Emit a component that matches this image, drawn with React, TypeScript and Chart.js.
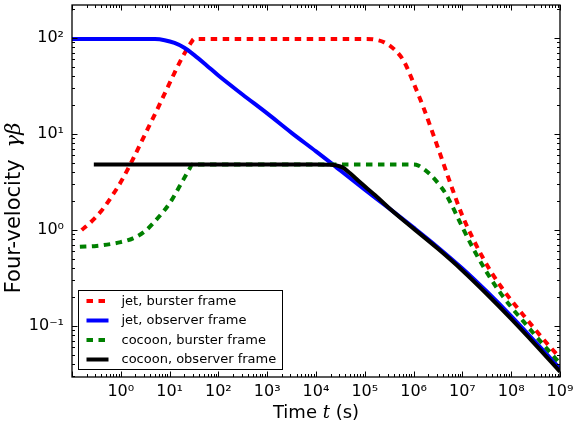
import React, { useEffect, useRef } from 'react';
import { Chart, registerables } from 'chart.js';

Chart.register(...registerables);

// ---- data ----
const jetBursterT = [0.158, 0.251, 0.398, 0.631, 1, 1.78, 3.16, 5.62, 10, 17.8, 28.2, 31.6, 100, 1e3, 1e4, 1e5, 1.58e5, 2.51e5, 3.98e5, 6.31e5, 1e6, 1.58e6, 2.51e6, 3.98e6, 6.31e6, 1e7, 1.58e7, 2.51e7, 3.98e7, 6.31e7, 1e8, 1.78e8, 3.16e8, 5.62e8, 1e9];
const jetBursterV = [1.0, 1.23, 1.58, 2.19, 3.16, 5.5, 10, 18.2, 33.9, 61.7, 91.2, 98, 98, 98, 98, 98, 96.6, 90.2, 76.7, 57.5, 33.9, 19.1, 10.0, 5.13, 2.63, 1.41, 0.85, 0.537, 0.359, 0.254, 0.186, 0.13, 0.091, 0.0646, 0.0468];

const jetObserverT = [0.1, 1, 5.0, 7.9, 12.6, 20, 31.6, 56, 100, 316, 1e3, 3.16e3, 1e4, 2.24e4, 3.16e4, 1e5, 3.16e5, 1e6, 3.16e6, 1e7, 3.16e7, 1e8, 3.16e8, 1e9];
const jetObserverV = [98, 98, 97.5, 95, 89, 79.4, 66.8, 52.5, 40.7, 25.7, 16.4, 10.3, 6.6, 4.8, 4.17, 2.63, 1.68, 1.06, 0.66, 0.398, 0.229, 0.127, 0.068, 0.036];

const cocoonBursterT = [0.145, 0.316, 1, 1.78, 3.16, 5.62, 10, 15.8, 25.1, 29.5, 100, 1e4, 1e6, 1.26e6, 1.58e6, 2.24e6, 3.16e6, 4.47e6, 6.31e6, 1e7, 1.78e7, 3.16e7, 5.62e7, 1e8, 1.78e8, 3.16e8, 5.62e8, 1e9];
const cocoonBursterV = [0.67, 0.684, 0.75, 0.82, 0.977, 1.32, 1.9, 2.82, 4.27, 4.83, 4.83, 4.83, 4.83, 4.7, 4.37, 3.76, 3.09, 2.43, 1.74, 1.07, 0.603, 0.363, 0.232, 0.158, 0.112, 0.0794, 0.0569, 0.0407];

const cocoonObserverT = [0.28, 10, 1e3, 1e4, 2e4, 3.5e4, 5e4, 7.9e4, 1.74e5, 3.3e5, 1e6, 3.16e6, 1e7, 3.16e7, 1e8, 3.16e8, 1e9];
const cocoonObserverV = [4.83, 4.83, 4.83, 4.83, 4.8, 4.5, 3.9, 3.16, 2.24, 1.66, 1.035, 0.638, 0.38, 0.216, 0.119, 0.0638, 0.0335];

const seriesLabels = ['jet, burster frame', 'jet, observer frame', 'cocoon, burster frame', 'cocoon, observer frame'];
const seriesColors = ['#ff0000', '#0000ff', '#008000', '#000000'];

const xTickValues = [1, 10, 100, 1e3, 1e4, 1e5, 1e6, 1e7, 1e8, 1e9];
const yTickValues = [0.1, 1, 10, 100];

const X_MIN = 0.1;
const X_MAX = 1e9;
const Y_MIN = 0.0295;
const Y_MAX = 221;

const FONT = 'DejaVu Sans';

const SUP: Record<string, string> = { '0': '⁰', '1': '¹', '2': '²', '3': '³', '4': '⁴', '5': '⁵', '6': '⁶', '7': '⁷', '8': '⁸', '9': '⁹', '-': '⁻' };
const fmtPow = (v: number) => '10' + String(Math.round(Math.log10(v))).split('').map((c) => SUP[c] || c).join('');

const pts = (t: number[], v: number[]) => t.map((x, i) => ({ x, y: v[i] }));

const frameTicksPlugin = {
  id: 'frameTicks',
  afterDatasetsDraw(chart: any) {
    const { ctx, chartArea: a, scales } = chart;
    const xs = scales.x;
    const ys = scales.y;
    ctx.save();
    ctx.strokeStyle = '#000';
    ctx.lineWidth = 1;
    const seg = (x1: number, y1: number, x2: number, y2: number) => {
      ctx.beginPath();
      ctx.moveTo(x1, y1);
      ctx.lineTo(x2, y2);
      ctx.stroke();
    };
    const MAJ = 5.5;
    const MIN = 3;
    for (let e = -2; e <= 9; e++) {
      for (let k = 1; k <= 9; k++) {
        const v = k * Math.pow(10, e);
        const len = k === 1 ? MAJ : MIN;
        if (v >= X_MIN * 0.999 && v <= X_MAX * 1.001) {
          const p = Math.round(xs.getPixelForValue(v)) + 0.5;
          seg(p, a.bottom, p, a.bottom - len);
          seg(p, a.top, p, a.top + len);
        }
        if (v >= Y_MIN && v <= Y_MAX) {
          const p = Math.round(ys.getPixelForValue(v)) + 0.5;
          seg(a.left, p, a.left + len, p);
          seg(a.right, p, a.right - len, p);
        }
      }
    }
    ctx.lineWidth = 1.3;
    ctx.strokeRect(a.left, a.top, a.right - a.left, a.bottom - a.top);
    ctx.restore();
  },
};

const labelsLegendPlugin = {
  id: 'labelsLegend',
  afterDraw(chart: any) {
    const { ctx, chartArea: a } = chart;
    ctx.save();
    // y-axis title
    ctx.fillStyle = '#000';
    ctx.translate(15, 208);
    ctx.rotate(-Math.PI / 2);
    ctx.textBaseline = 'middle';
    const part1 = 'Four-velocity';
    const part2 = 'γβ';
    const gap = 12;
    ctx.font = `21px "${FONT}"`;
    const w1 = ctx.measureText(part1).width;
    ctx.font = `italic 21px "DejaVu Serif"`;
    const w2 = ctx.measureText(part2).width;
    const start = -(w1 + gap + w2) / 2;
    ctx.textAlign = 'left';
    ctx.font = `21px "${FONT}"`;
    ctx.fillText(part1, start, 0);
    ctx.font = `italic 21px "DejaVu Serif"`;
    ctx.fillText(part2, start + w1 + gap, 0);
    ctx.restore();

    // x-axis title
    ctx.save();
    ctx.fillStyle = '#000';
    ctx.textBaseline = 'middle';
    ctx.textAlign = 'left';
    const xa = 'Time ';
    const xb = 't';
    const xc = ' (s)';
    ctx.font = `18px "${FONT}"`;
    const wa = ctx.measureText(xa).width;
    const wc = ctx.measureText(xc).width;
    ctx.font = `italic 18px "DejaVu Serif"`;
    const wb = ctx.measureText(xb).width;
    const cx = (a.left + a.right) / 2;
    const x0 = cx - (wa + wb + wc) / 2;
    const yT = 413;
    ctx.font = `18px "${FONT}"`;
    ctx.fillText(xa, x0, yT);
    ctx.font = `italic 18px "DejaVu Serif"`;
    ctx.fillText(xb, x0 + wa, yT);
    ctx.font = `18px "${FONT}"`;
    ctx.fillText(xc, x0 + wa + wb, yT);
    ctx.restore();

    // inset legend
    ctx.save();
    const bx = a.left + 6.5;
    const by = a.bottom - 86.5;
    const bw = 204;
    const bh = 79;
    ctx.fillStyle = '#fff';
    ctx.fillRect(bx, by, bw, bh);
    ctx.strokeStyle = '#000';
    ctx.lineWidth = 1;
    ctx.strokeRect(bx, by, bw, bh);
    const ds = chart.data.datasets;
    ctx.font = `13px "${FONT}"`;
    ctx.textBaseline = 'middle';
    ctx.textAlign = 'left';
    for (let i = 0; i < ds.length; i++) {
      const yy = by + 10.5 + i * 19.5;
      ctx.beginPath();
      ctx.strokeStyle = ds[i].borderColor;
      ctx.lineWidth = 4;
      ctx.lineCap = 'butt';
      ctx.setLineDash(ds[i].borderDash || []);
      ctx.moveTo(bx + 8, yy);
      ctx.lineTo(bx + 30, yy);
      ctx.stroke();
      ctx.setLineDash([]);
      ctx.fillStyle = '#000';
      ctx.fillText(ds[i].label, bx + 43, yy + 0.5);
    }
    ctx.restore();
  },
};

export default function App() {
  const ref = useRef<HTMLCanvasElement | null>(null);

  useEffect(() => {
    if (!ref.current) return;
    const series = [
      { t: jetBursterT, v: jetBursterV, dash: [6.5, 5.5], order: 4 },
      { t: jetObserverT, v: jetObserverV, dash: [], order: 3 },
      { t: cocoonBursterT, v: cocoonBursterV, dash: [6.5, 5.5], order: 2 },
      { t: cocoonObserverT, v: cocoonObserverV, dash: [], order: 1 },
    ];
    const chart = new Chart(ref.current, {
      type: 'line',
      data: {
        datasets: series.map((s, i) => ({
          label: seriesLabels[i],
          data: pts(s.t, s.v),
          borderColor: seriesColors[i],
          backgroundColor: seriesColors[i],
          borderWidth: 4,
          borderDash: s.dash,
          borderCapStyle: 'butt',
          pointRadius: 0,
          pointHoverRadius: 0,
          fill: false,
          cubicInterpolationMode: 'monotone',
          order: s.order,
        })),
      } as any,
      options: {
        responsive: false,
        animation: false,
        devicePixelRatio: 1,
        layout: { padding: { top: 5, right: 21, left: 0, bottom: 0 } },
        plugins: {
          legend: { display: false },
          tooltip: { enabled: false },
        },
        scales: {
          x: {
            type: 'logarithmic',
            min: X_MIN,
            max: X_MAX,
            bounds: 'data',
            grid: { display: false, drawTicks: false },
            border: { display: false },
            afterFit: (s: any) => {
              s.height = 59;
              s.paddingLeft = 0;
              s.paddingRight = 0;
            },
            afterBuildTicks: (s: any) => { s.ticks = xTickValues.map((v) => ({ value: v })); },
            ticks: {
              autoSkip: false,
              maxRotation: 0,
              minRotation: 0,
              padding: 5,
              color: '#000',
              font: { family: FONT, size: 16 },
              callback: (v: any) => fmtPow(Number(v)),
            },
          },
          y: {
            type: 'logarithmic',
            min: Y_MIN,
            max: Y_MAX,
            bounds: 'data',
            grid: { display: false, drawTicks: false },
            border: { display: false },
            afterFit: (s: any) => {
              s.width = 72;
              s.paddingTop = 0;
              s.paddingBottom = 0;
            },
            afterBuildTicks: (s: any) => { s.ticks = yTickValues.map((v) => ({ value: v })); },
            ticks: {
              autoSkip: false,
              padding: 8,
              color: '#000',
              font: { family: FONT, size: 16 },
              callback: (v: any) => fmtPow(Number(v)),
            },
          },
        },
      } as any,
      plugins: [frameTicksPlugin, labelsLegendPlugin],
    });
    return () => chart.destroy();
  }, []);

  return (
    <div style={{ position: 'absolute', left: 0, top: 0, width: 581, height: 436, background: '#fff' }}>
      <canvas ref={ref} width={581} height={436} style={{ display: 'block' }} />
    </div>
  );
}
